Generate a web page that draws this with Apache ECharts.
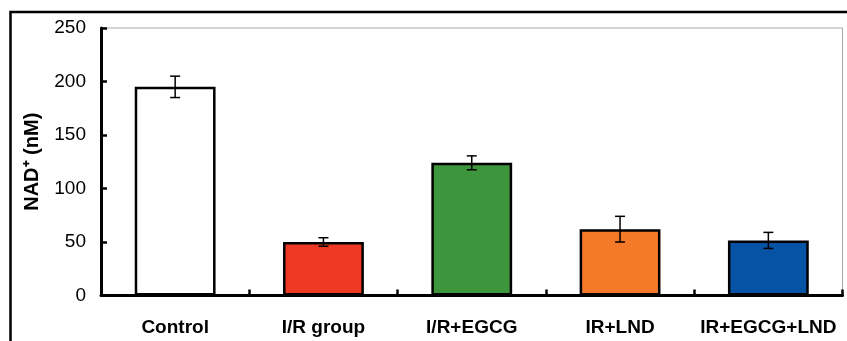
<!DOCTYPE html>
<html>
<head>
<meta charset="utf-8">
<script src="https://cdn.jsdelivr.net/npm/echarts@6/dist/echarts.min.js"></script>
<style>
  html, body { margin: 0; padding: 0; background: #fff; }
  #chart { width: 847px; height: 341px; }
</style>
</head>
<body>
<div id="chart"></div>
<script>
// NAD+ concentration per treatment group (mean and standard deviation)
const categories = ['Control', 'I/R group', 'I/R+EGCG', 'IR+LND', 'IR+EGCG+LND'];
const means = [195, 50, 124, 62, 51.5];
const errors = [10, 4, 6.5, 12, 7.5];
const barColors = ['#ffffff', '#ee3a24', '#3d963c', '#f47a2a', '#0652a4'];
const yTicks = [0, 50, 100, 150, 200, 250];

const FONT = '"Liberation Sans", Arial, sans-serif';

const chart = echarts.init(document.getElementById('chart'), null, { renderer: 'canvas' });

const barData = means.map((v, i) => ({
  value: v,
  itemStyle: { color: barColors[i] }
}));

const errData = means.map((v, i) => [i, v - errors[i], v + errors[i]]);

chart.setOption({
  animation: false,
  backgroundColor: '#fff',
  graphic: [{
    // outer figure frame
    type: 'rect',
    shape: { x: 10.5, y: 12, width: 860, height: 360 },
    style: { fill: 'none', stroke: '#000', lineWidth: 2.5 },
    silent: true,
    z: 0
  }],
  grid: {
    left: 101, right: 4.5, top: 28, bottom: 45.5,
    show: true, borderColor: '#a8a8a8', borderWidth: 1,
    backgroundColor: 'transparent'
  },
  xAxis: {
    type: 'category',
    data: categories,
    z: 10,
    axisLine: { lineStyle: { color: '#000', width: 3 } },
    axisTick: { show: true, inside: true, length: 6, lineStyle: { color: '#000', width: 2.5 } },
    axisLabel: {
      color: '#000', fontFamily: FONT, fontWeight: 'bold', fontSize: 19,
      margin: 23, interval: 0
    },
    splitLine: { show: false }
  },
  yAxis: {
    type: 'value',
    z: 10,
    min: yTicks[0], max: yTicks[yTicks.length - 1], interval: 50,
    name: 'NAD\u207A (nM)',
    nameLocation: 'middle',
    nameGap: 59,
    nameRotate: 90,
    nameTextStyle: { color: '#000', fontFamily: FONT, fontWeight: 'bold', fontSize: 20 },
    axisLine: { show: true, lineStyle: { color: '#000', width: 3 } },
    axisTick: { show: true, inside: true, length: 6, lineStyle: { color: '#000', width: 2.5 } },
    axisLabel: { color: '#000', fontFamily: FONT, fontSize: 19, margin: 15 },
    splitLine: { show: false }
  },
  series: [{
    type: 'bar',
    data: barData,
    barWidth: '54.5%',
    itemStyle: { borderColor: '#000', borderWidth: 2.5 },
    z: 2
  }, {
    type: 'custom',
    data: errData,
    encode: { x: 0, y: [1, 2] },
    z: 5,
    renderItem: function (params, api) {
      const x = api.value(0);
      const lo = api.coord([x, api.value(1)]);
      const hi = api.coord([x, api.value(2)]);
      const cap = 5;
      const style = { stroke: '#000', lineWidth: 1.5 };
      return {
        type: 'group',
        children: [
          { type: 'line', shape: { x1: hi[0], y1: hi[1], x2: lo[0], y2: lo[1] }, style: style },
          { type: 'line', shape: { x1: hi[0] - cap, y1: hi[1], x2: hi[0] + cap, y2: hi[1] }, style: style },
          { type: 'line', shape: { x1: lo[0] - cap, y1: lo[1], x2: lo[0] + cap, y2: lo[1] }, style: style }
        ]
      };
    }
  }]
});
</script>
</body>
</html>
